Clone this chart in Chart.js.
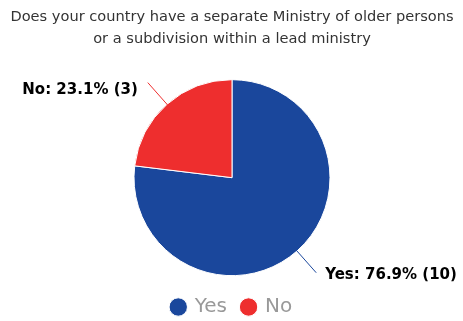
<!DOCTYPE html>
<html>
<head>
<meta charset="utf-8">
<script src="https://cdn.jsdelivr.net/npm/chart.js"></script>
<style>
  html, body { margin: 0; padding: 0; background: #fff; }
  #wrap { width: 463px; height: 321px; }
</style>
</head>
<body>
<div id="wrap"><canvas id="pieChart" width="463" height="321"></canvas></div>
<script>
const categories = ["Yes", "No"];
const counts = [10, 3];
const percentLabels = ["76.9%", "23.1%"];
const sliceColors = ["#1a479c", "#ee2e2e"];
const titleLines = ["Does your country have a separate Ministry of older persons", "or a subdivision within a lead ministry"];

// etiquetas fuera del pastel con línea guía
const outsideLabels = {
    id: "outsideLabels",
    afterDatasetsDraw(chart) {
        const ctx = chart.ctx;
        const meta = chart.getDatasetMeta(0);
        ctx.save();
        meta.data.forEach((arc, i) => {
            const p = arc.getProps(["x", "y", "startAngle", "endAngle", "outerRadius"], true);
            const mid = (p.startAngle + p.endAngle) / 2;
            const dx = Math.cos(mid), dy = Math.sin(mid);
            const x1 = p.x + dx * (p.outerRadius - 10);
            const y1 = p.y + dy * (p.outerRadius - 10);
            const x2 = p.x + dx * (p.outerRadius + 29);
            const y2 = p.y + dy * (p.outerRadius + 29);
            ctx.strokeStyle = sliceColors[i];
            ctx.lineWidth = 1;
            ctx.beginPath();
            ctx.moveTo(x1, y1);
            ctx.lineTo(x2, y2);
            ctx.stroke();

            const text = categories[i] + ": " + percentLabels[i] + " (" + counts[i] + ")";
            ctx.font = "bold 15px 'DejaVu Sans'";
            ctx.textBaseline = "middle";
            const right = dx >= 0;
            ctx.textAlign = right ? "left" : "right";
            const tx = x2 + (right ? 9 : -10);
            const ty = y2 + (right ? 2 : 8);
            const w = ctx.measureText(text).width;
            ctx.fillStyle = "rgba(255,255,255,0.8)";
            ctx.fillRect(right ? tx - 3 : tx - w - 3, ty - 11, w + 6, 22);
            ctx.fillStyle = "#000";
            ctx.fillText(text, tx, ty);
        });
        ctx.restore();
    }
};

const ctx = document.getElementById("pieChart").getContext("2d");
new Chart(ctx, {
    type: "pie",
    data: {
        labels: categories,
        datasets: [{
            data: counts,
            backgroundColor: sliceColors,
            borderColor: "#ffffff",
            borderWidth: 1,
            radius: 98
        }]
    },
    options: {
        responsive: false,
        animation: false,
        layout: { padding: { top: 0, bottom: -6, left: 1 } },
        plugins: {
            title: {
                display: true,
                text: titleLines,
                color: "#333",
                font: { family: "'DejaVu Sans'", size: 14.6, weight: "normal", lineHeight: 1.45 },
                padding: { top: 7, bottom: 24 }
            },
            legend: {
                position: "bottom",
                labels: {
                    usePointStyle: true,
                    pointStyle: "circle",
                    boxWidth: 13,
                    boxHeight: 13,
                    padding: 15,
                    color: "#999",
                    font: { family: "'DejaVu Sans'", size: 20 }
                }
            },
            tooltip: { enabled: false }
        }
    },
    plugins: [outsideLabels]
});
</script>
</body>
</html>
